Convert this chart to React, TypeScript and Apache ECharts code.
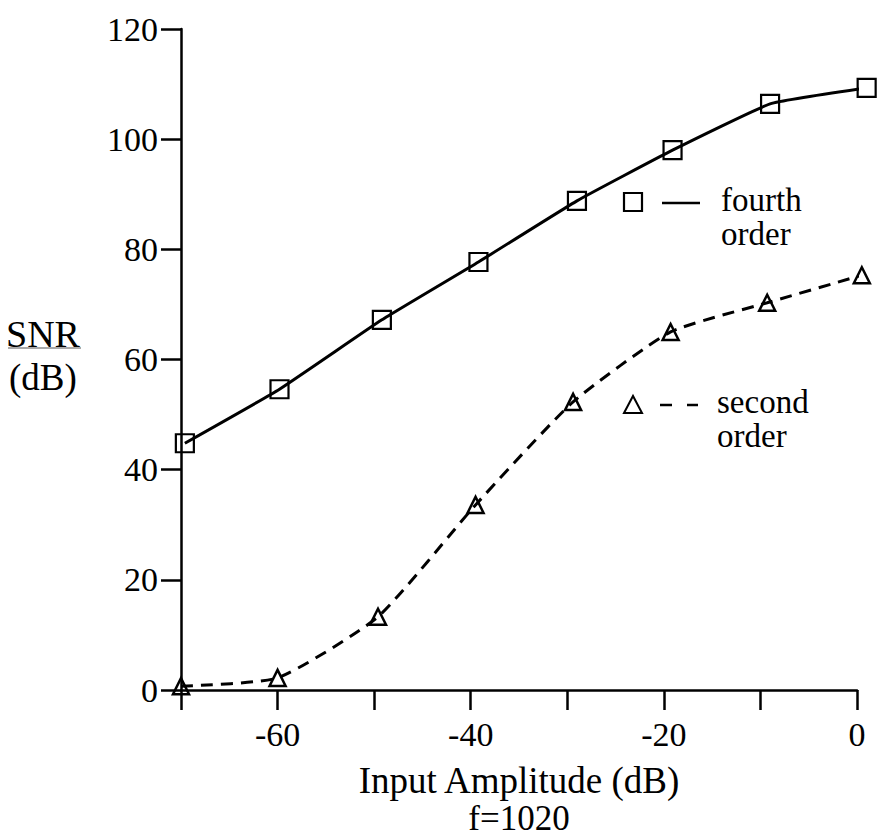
import React, { useEffect, useRef } from "react";
import * as echarts from "echarts";

const xTicks = [-70, -60, -50, -40, -30, -20, -10, 0];
const xLabelsShown = [-60, -40, -20, 0];
const fourthX = [-69.6, -59.8, -49.2, -39.2, -29.0, -19.1, -9.0, 1.0];
const fourthY = [44.8, 54.6, 67.2, 77.7, 88.8, 98.0, 106.4, 109.3];
const secondX = [-70, -60, -49.6, -39.5, -29.4, -19.3, -9.3, 0.5];
const secondY = [0.7, 2.2, 13.3, 33.6, 52.3, 65.0, 70.3, 75.3];

const FONT = "'Liberation Serif', 'DejaVu Serif', serif";

export default function App() {
  const ref = useRef<HTMLDivElement>(null);
  useEffect(() => {
    document.body.style.margin = "0";
    const chart = echarts.init(ref.current!, null, { renderer: "svg" });
    const txt = (text: string, x: number, y: number, size = 34, align = "left", lineHeight?: number) => ({
      type: "text",
      x,
      y,
      style: {
        text,
        fill: "#000",
        fontSize: size,
        fontFamily: FONT,
        lineHeight: lineHeight ?? size,
        align,
        verticalAlign: "middle",
      },
    });
    chart.setOption({
      animation: false,
      backgroundColor: "#fff",
      grid: { left: 181, right: 23, top: 29, bottom: 147, containLabel: false },
      xAxis: {
        type: "value",
        min: xTicks[0],
        max: xTicks[xTicks.length - 1],
        interval: 10,
        splitLine: { show: false },
        axisLine: { show: true, onZero: false, lineStyle: { color: "#000", width: 2.5 } },
        axisTick: { show: true, length: 20, lineStyle: { color: "#000", width: 2.5 } },
        axisLabel: {
          color: "#000",
          fontSize: 34,
          fontFamily: FONT,
          margin: 27,
          formatter: (v: number) => (xLabelsShown.includes(v) ? String(v) : ""),
        },
      },
      yAxis: {
        type: "value",
        min: 0,
        max: 120,
        interval: 20,
        splitLine: { show: false },
        axisLine: { show: true, onZero: false, lineStyle: { color: "#000", width: 2.5 } },
        axisTick: { show: true, length: 20, lineStyle: { color: "#000", width: 2.5 } },
        axisLabel: { color: "#000", fontSize: 34, fontFamily: FONT, margin: 23 },
      },
      series: [
        {
          name: "fourth order",
          type: "line",
          clip: false,
          smooth: 0.12,
          data: fourthX.map((x, i) => [x, fourthY[i]]),
          symbol: "rect",
          symbolSize: 18,
          lineStyle: { color: "#000", width: 3 },
          itemStyle: { color: "rgba(0,0,0,0)", borderColor: "#000", borderWidth: 2.2 },
          z: 3,
        },
        {
          name: "second order",
          type: "line",
          clip: false,
          smooth: 0.18,
          data: secondX.map((x, i) => [x, secondY[i]]),
          symbol: "triangle",
          symbolSize: [16, 16],
          lineStyle: { color: "#000", width: 3, type: [12, 8] },
          itemStyle: { color: "rgba(0,0,0,0)", borderColor: "#000", borderWidth: 2.5 },
          z: 3,
        },
      ],
      graphic: [
        txt("SNR", 6, 334, 38),
        { type: "line", shape: { x1: 8, y1: 348, x2: 81, y2: 348 }, style: { stroke: "#555", lineWidth: 1.2 } },
        txt("(dB)", 9, 377, 37),
        txt("Input Amplitude (dB)", 519, 780, 37, "center"),
        txt("f=1020", 519, 818, 35, "center"),
        // legend: fourth order
        { type: "rect", shape: { x: 624, y: 193, width: 18, height: 18 }, style: { fill: "none", stroke: "#000", lineWidth: 2.2 } },
        { type: "line", shape: { x1: 662, y1: 203, x2: 700, y2: 203 }, style: { stroke: "#000", lineWidth: 2.5 } },
        txt("fourth\norder", 721, 217, 33, "left", 34),
        // legend: second order
        { type: "polygon", shape: { points: [[624, 413], [633, 396], [642, 413]] }, style: { fill: "none", stroke: "#000", lineWidth: 2 } },
        { type: "line", shape: { x1: 660, y1: 405, x2: 672, y2: 405 }, style: { stroke: "#000", lineWidth: 2.5 } },
        { type: "line", shape: { x1: 687, y1: 405, x2: 698, y2: 405 }, style: { stroke: "#000", lineWidth: 2.5 } },
        txt("second\norder", 717, 419, 33, "left", 34),
      ],
    });
    return () => chart.dispose();
  }, []);
  return <div ref={ref} style={{ position: "absolute", left: 0, top: 0, width: 880, height: 837 }} />;
}
